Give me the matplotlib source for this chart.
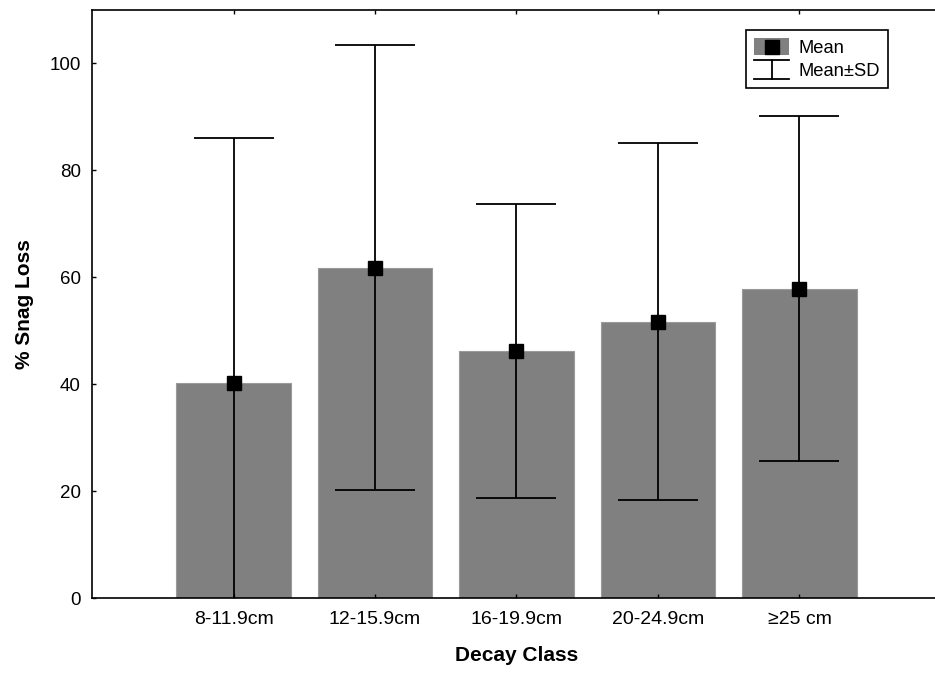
import numpy as np
import matplotlib
matplotlib.use('Agg')
import matplotlib.pyplot as plt
from matplotlib.patches import Rectangle
from matplotlib.lines import Line2D
from matplotlib.legend_handler import HandlerBase

plt.rcParams['font.family'] = ['Liberation Sans', 'DejaVu Sans']

# data
classes = ['8-11.9cm', '12-15.9cm', '16-19.9cm', '20-24.9cm', '\u226525 cm']
mean_loss = [40.3, 61.8, 46.2, 51.7, 57.9]
sd_loss = [45.8, 41.5, 27.4, 33.3, 32.2]

x = np.arange(1, len(classes) + 1)


class HandlerMean(HandlerBase):
    # grey box with the black square on it
    def create_artists(self, legend, orig_handle, xdescent, ydescent,
                       width, height, fontsize, trans):
        box = Rectangle((-xdescent, -ydescent), width, height,
                        facecolor='#808080', edgecolor='none', transform=trans)
        dot = Line2D([-xdescent + width / 2], [-ydescent + height / 2], marker='s',
                     color='k', linestyle='none', markersize=9.5, transform=trans)
        return [box, dot]


class HandlerSD(HandlerBase):
    # little "I" symbol for the Mean±SD entry
    def create_artists(self, legend, orig_handle, xdescent, ydescent,
                       width, height, fontsize, trans):
        x0, x1 = -xdescent, -xdescent + width
        y0, y1 = -ydescent - 1, -ydescent + height + 1
        xm = (x0 + x1) / 2
        lines = [Line2D([x0, x1], [y1, y1]), Line2D([x0, x1], [y0, y0]),
                 Line2D([xm, xm], [y0, y1])]
        for ln in lines:
            ln.set_color('k')
            ln.set_linewidth(1.3)
            ln.set_transform(trans)
        return lines


class MeanKey:
    pass


class SDKey:
    pass


fig = plt.figure(figsize=(9.35, 6.73), dpi=100)
ax = fig.add_axes([0.0984, 0.1107, 0.908, 0.875])

ax.bar(x, mean_loss, width=0.81, color='#808080', edgecolor='#9a9a9a', linewidth=0.8, zorder=1)
ax.errorbar(x, mean_loss, yerr=sd_loss, fmt='none', ecolor='k', elinewidth=1.3,
            capsize=28.5, capthick=1.3, zorder=2)
ax.plot(x, mean_loss, 's', color='k', markersize=9.5, zorder=3)

ax.set_xlim(0, 6)
ax.set_ylim(0, 110)
ax.set_xticks(x)
ax.set_xticklabels(classes, fontsize=14)
ax.set_yticks(np.arange(0, 101, 20))
ax.tick_params(axis='y', labelsize=13.5, pad=8)
ax.tick_params(axis='x', pad=9)
ax.tick_params(axis='both', direction='in', length=3, width=1, top=True, right=True)
for s in ax.spines.values():
    s.set_linewidth(1.2)

ax.set_xlabel('Decay Class', fontsize=15, fontweight='bold', labelpad=13)
ax.set_ylabel('% Snag Loss', fontsize=15, fontweight='bold', labelpad=11)

leg = ax.legend([MeanKey(), SDKey()], ['Mean', 'Mean\u00b1SD'],
                handler_map={MeanKey: HandlerMean(), SDKey: HandlerSD()},
                loc='upper right', bbox_to_anchor=(0.9376, 0.965), borderaxespad=0,
                fontsize=13.2, fancybox=False, framealpha=1, edgecolor='k',
                handlelength=1.9, handleheight=1.05, labelspacing=0.2,
                handletextpad=0.5, borderpad=0.45)
leg.get_frame().set_linewidth(1.2)

fig.savefig('out.png', dpi=100)
